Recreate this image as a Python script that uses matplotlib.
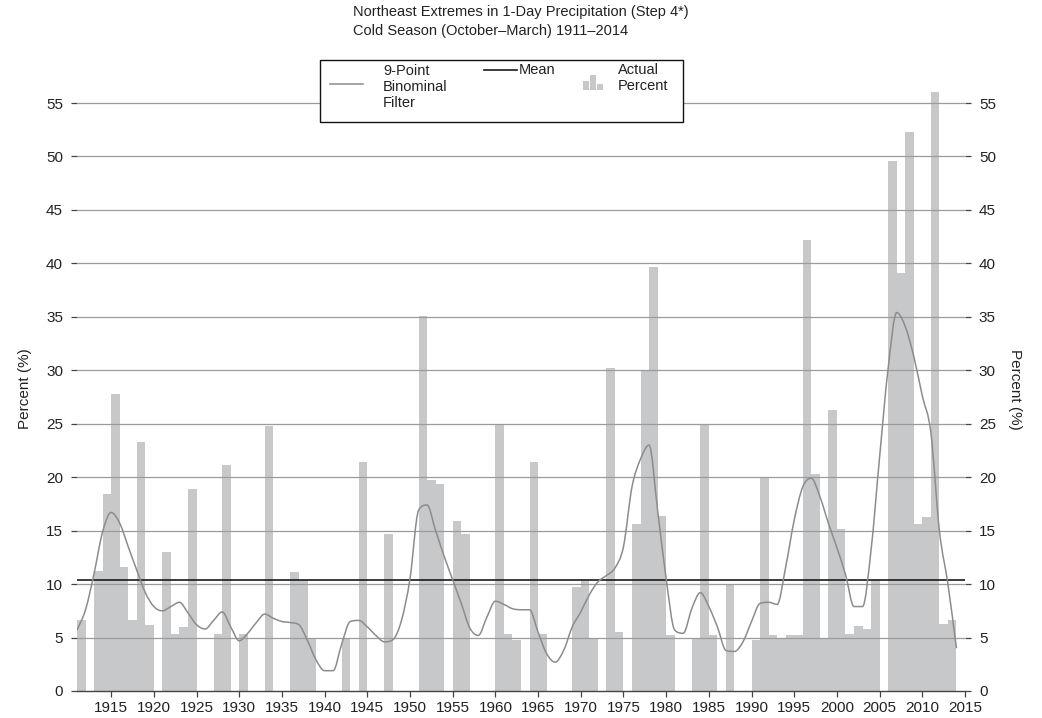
import matplotlib
matplotlib.use("Agg")
import matplotlib.pyplot as plt
from matplotlib.patches import Rectangle, PathPatch
from matplotlib.path import Path
from matplotlib.lines import Line2D

plt.rcParams['font.family'] = ['Liberation Sans', 'DejaVu Sans']

# yearly percent of extremes, cold season
years = list(range(1911, 2015))
actual_pct = [
    6.6, 0, 11.2, 18.4, 27.8, 11.6, 6.6, 23.3, 6.2, 0,        # 1911-1920
    13.0, 5.3, 6.0, 18.9, 0, 0, 5.3, 21.1, 0, 5.3,            # 1921-1930
    0, 0, 24.8, 0, 0, 11.1, 10.4, 5.0, 0, 0,                  # 1931-1940
    0, 5.0, 0, 21.4, 0, 0, 14.7, 0, 0, 0,                     # 1941-1950
    35.1, 19.7, 19.4, 0, 15.9, 14.7, 0, 0, 0, 25.0,           # 1951-1960
    5.3, 4.8, 0, 21.4, 5.3, 0, 0, 0, 9.7, 10.3,               # 1961-1970
    5.0, 0, 30.2, 5.5, 0, 15.6, 30.0, 39.7, 16.4, 5.2,        # 1971-1980
    0, 0, 5.0, 25.0, 5.2, 0, 10.0, 0, 0, 4.8,                 # 1981-1990
    19.9, 5.2, 5.0, 5.2, 5.2, 42.2, 20.3, 4.9, 26.3, 15.2,    # 1991-2000
    5.3, 6.1, 5.8, 10.4, 0, 49.6, 39.1, 52.3, 15.6, 16.3,     # 2001-2010
    56.0, 6.3, 6.6, 0,                                        # 2011-2014
]
filter_pct = [
    5.7, 7.6, 11.0, 14.9, 16.7, 15.7, 13.5, 11.3, 9.2, 7.9,
    7.5, 7.9, 8.3, 7.3, 6.2, 5.8, 6.6, 7.4, 6.0, 4.7,
    5.4, 6.4, 7.2, 6.8, 6.5, 6.4, 6.2, 4.7, 2.9, 1.9,
    1.9, 4.4, 6.5, 6.6, 6.0, 5.2, 4.6, 4.8, 6.6, 10.5,
    16.9, 17.4, 15.0, 12.6, 10.4, 8.2, 5.9, 5.2, 6.9, 8.4,
    8.1, 7.7, 7.6, 7.6, 5.5, 3.5, 2.7, 3.8, 6.0, 7.4,
    9.0, 10.2, 10.8, 11.5, 13.5, 19.1, 21.7, 23.0, 16.9, 10.5,
    5.7, 5.4, 7.7, 9.2, 7.9, 6.0, 3.8, 3.7, 4.6, 6.5,
    8.2, 8.3, 8.1, 11.6, 16.0, 19.1, 19.9, 18.2, 15.7, 13.4,
    10.9, 7.9, 7.9, 13.2, 21.9, 30.2, 35.4, 34.1, 31.3, 27.6,
    24.2, 15.0, 10.0, 4.0,
]
mean_pct = 10.35
xticks = list(range(1915, 2016, 5))
yticks = list(range(0, 60, 5))

W, H = 1042, 718
fig = plt.figure(figsize=(W / 100, H / 100), dpi=100)


def px(x, y):
    return x / W, 1 - y / H


def smooth_path(xs, ys):
    # monotone bezier segments through every point, no overshoot
    n = len(xs)
    d = [ys[i + 1] - ys[i] for i in range(n - 1)]
    m = [d[0]] + [0.0] * (n - 2) + [d[-1]]
    for i in range(1, n - 1):
        if d[i - 1] * d[i] > 0:
            m[i] = (d[i - 1] + d[i]) / 2
            lim = 3 * min(abs(d[i - 1]), abs(d[i]))
            if abs(m[i]) > lim:
                m[i] = lim if m[i] > 0 else -lim
    verts = [(xs[0], ys[0])]
    codes = [Path.MOVETO]
    for i in range(n - 1):
        h = xs[i + 1] - xs[i]
        verts += [(xs[i] + h / 3, ys[i] + m[i] * h / 3),
                  (xs[i + 1] - h / 3, ys[i + 1] - m[i + 1] * h / 3),
                  (xs[i + 1], ys[i + 1])]
        codes += [Path.CURVE4] * 3
    return Path(verts, codes)


ax = fig.add_axes([77 / W, (H - 691) / H, (965 - 77) / W, (691 - 87) / H])

ax.bar(years, actual_pct, width=1.0, align='edge', color='#c7c8ca', linewidth=0, zorder=1)
for v in yticks[1:]:
    ax.axhline(v, color='#9b9b9b', linewidth=0.9, zorder=2)
ax.axhline(mean_pct, color='#1a1a1a', linewidth=1.2, zorder=3)
ax.add_patch(PathPatch(smooth_path(years, filter_pct), facecolor='none',
                       edgecolor='#8c8c8c', linewidth=1.1, zorder=4))

ax.set_xlim(1911, 2015)
ax.set_ylim(0, 56.5)
ax.set_xticks(xticks)
ax.set_yticks(yticks)
for s in ['top', 'left', 'right']:
    ax.spines[s].set_visible(False)
ax.spines['bottom'].set_color('#444444')
ax.spines['bottom'].set_linewidth(1.0)
ax.tick_params(axis='both', which='both', direction='out', length=4, width=0.9,
               color='#444444', labelsize=11, labelcolor='#222222', pad=3)
ax.tick_params(axis='y', right=True, labelright=True, left=True, pad=6)
ax.set_ylabel('Percent (%)', fontsize=11, color='#222222', labelpad=10)
ax2 = ax.secondary_yaxis('right')
ax2.set_yticks([])
ax2.spines['right'].set_visible(False)
ax2.set_ylabel('Percent (%)', fontsize=11, color='#222222', rotation=270, labelpad=41)

# title block
fig.text(*px(353, 12), 'Northeast Extremes in 1-Day Precipitation (Step 4*)',
         fontsize=10.5, color='#222222', ha='left', va='center')
fig.text(*px(353, 31), 'Cold Season (October\u2013March) 1911\u20132014',
         fontsize=10.5, color='#222222', ha='left', va='center')

# legend box
x0, y0 = px(320, 122)
x1, y1 = px(683, 60)
fig.patches.append(Rectangle((x0, y0), x1 - x0, y1 - y0, transform=fig.transFigure,
                             facecolor='white', edgecolor='#111111', linewidth=1.0, zorder=5))
fig.lines.append(Line2D([330 / W, 363 / W], [1 - 84 / H] * 2, transform=fig.transFigure,
                        color='#8c8c8c', linewidth=1.1, zorder=6))
fig.text(*px(383, 87), '9-Point\nBinominal\nFilter', fontsize=10.5, color='#222222',
         ha='left', va='center', linespacing=1.15, zorder=6)
fig.lines.append(Line2D([484 / W, 517 / W], [1 - 70 / H] * 2, transform=fig.transFigure,
                        color='#1a1a1a', linewidth=1.2, zorder=6))
fig.text(*px(519, 70), 'Mean', fontsize=10.5, color='#222222', ha='left', va='center', zorder=6)
for bx, bh in [(583, 9), (590, 15), (597, 6)]:
    fig.patches.append(Rectangle(px(bx, 90), 6 / W, bh / H, transform=fig.transFigure,
                                 facecolor='#c7c8ca', edgecolor='none', zorder=6))
fig.text(*px(618, 78), 'Actual\nPercent', fontsize=10.5, color='#222222',
         ha='left', va='center', linespacing=1.15, zorder=6)

fig.savefig('out.png', dpi=100)
